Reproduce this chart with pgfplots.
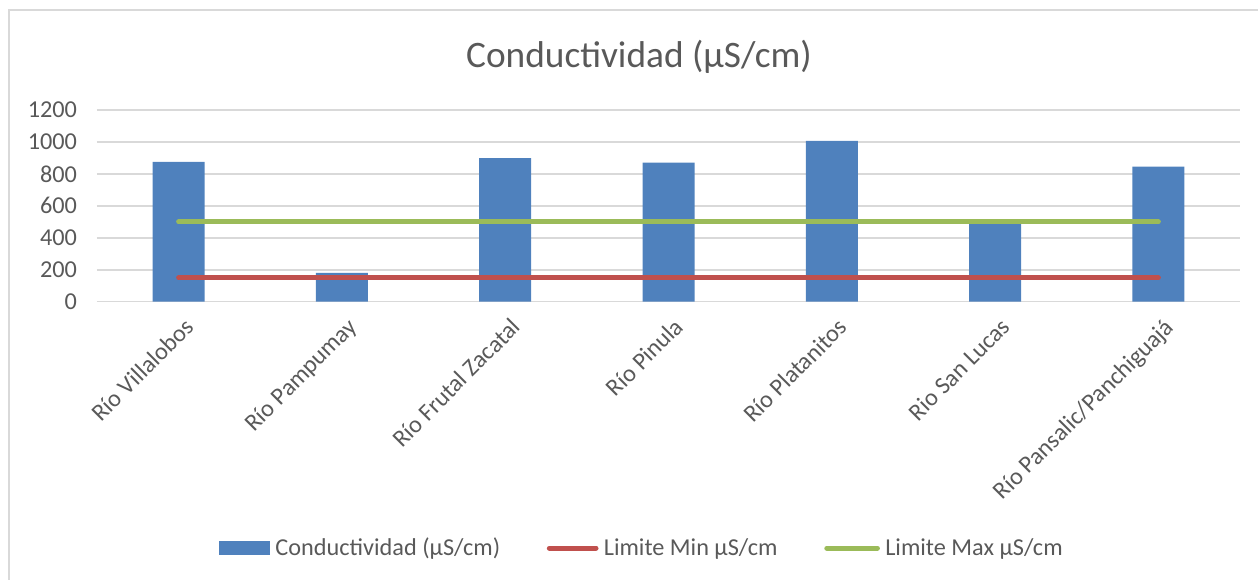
\documentclass[border=0pt]{standalone}
\usepackage{fontspec}
\setmainfont{Carlito}
\usepackage{pgfplots}
\pgfplotsset{compat=1.18}
\definecolor{barblue}{RGB}{79,129,189}
\definecolor{minred}{RGB}{192,80,77}
\definecolor{maxgreen}{RGB}{155,187,89}
\definecolor{gridgray}{RGB}{217,217,217}
\definecolor{txtgray}{RGB}{89,89,89}
\begin{document}
\begin{tikzpicture}[x=0.75pt,y=0.75pt]
\useasboundingbox (0,0) rectangle (1258,580);
\draw[gridgray, line width=1pt] (9,0) -- (9,570) -- (1258,570);
\node[txtgray, font=\fontsize{28}{33}\selectfont] at (639,523) {Conductividad (µS/cm)};
\begin{axis}[
  at={(72.75pt,208.7pt)}, anchor=south west,
  scale only axis, width=857.25pt, height=143.8pt,
  xmin=-0.5, xmax=6.5, ymin=0, ymax=1200,
  ytick={0,200,...,1200},
  xtick={0,...,6},
  xticklabels={Río Villalobos, Río Pampumay, Río Frutal Zacatal, Río Pinula, Río Platanitos, Rio San Lucas, Río Pansalic/Panchiguajá},
  ymajorgrids, grid style={gridgray, line width=1.1pt},
  axis line style={draw=none},
  major tick length=0pt,
  tick label style={txtgray, font=\fontsize{18.2}{21}\selectfont},
  /pgf/number format/assume math mode=true,
  /pgf/number format/1000 sep={},
  yticklabel style={xshift=-11.5pt},
  xticklabel style={rotate=45, anchor=north east, yshift=-7pt, xshift=-2pt},
  legend columns=3,
  legend style={at={(0.476,-1.285)}, anchor=center, draw=none, fill=none,
    font=\fontsize{18.2}{21}\selectfont, text=txtgray,
    nodes={inner sep=0pt},
    /tikz/every odd column/.append style={column sep=4pt},
    /tikz/every even column/.append style={column sep=35pt}},
  clip=false,
]
\addplot[ybar, bar width=39pt, fill=barblue, draw=none,
  legend image code/.code={\fill[barblue] (0pt,-5pt) rectangle (38pt,5pt);}]
  coordinates {(0,876) (1,180) (2,898) (3,870) (4,1006) (5,491) (6,845)};
\addlegendentry{Conductividad (µS/cm)}
\addplot[minred, line width=3.75pt, line cap=round, mark=none,
  legend image code/.code={\draw[minred, line width=3.75pt, line cap=round] (1.5pt,0pt) -- (36.5pt,0pt);}]
  coordinates {(0,150) (1,150) (2,150) (3,150) (4,150) (5,150) (6,150)};
\addlegendentry{Limite Min µS/cm}
\addplot[maxgreen, line width=3.75pt, line cap=round, mark=none,
  legend image code/.code={\draw[maxgreen, line width=3.75pt, line cap=round] (1.5pt,0pt) -- (39.5pt,0pt);}]
  coordinates {(0,500) (1,500) (2,500) (3,500) (4,500) (5,500) (6,500)};
\addlegendentry{Limite Max µS/cm}
\end{axis}
\end{tikzpicture}
\end{document}
